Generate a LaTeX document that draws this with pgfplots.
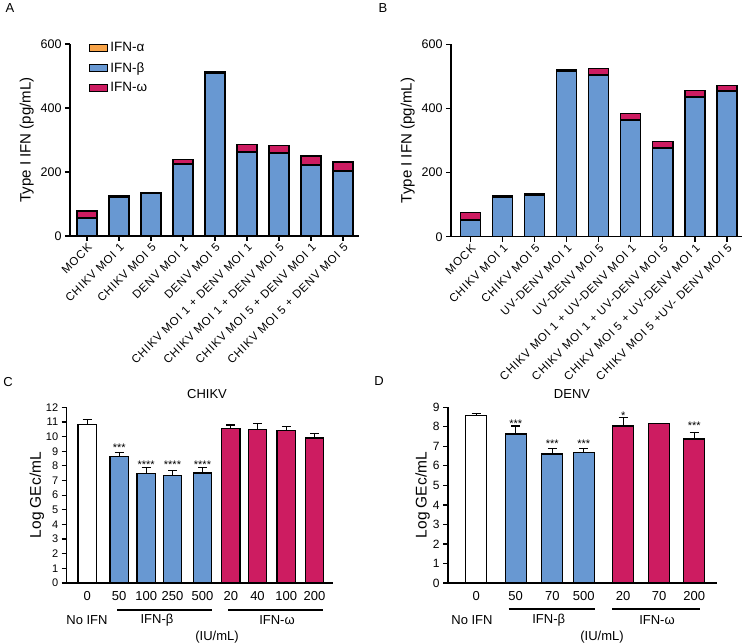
\documentclass[border=0pt]{standalone}
\usepackage{fontspec}
\setmainfont{Liberation Sans}
\newfontfamily\catfont[LetterSpace=8]{Liberation Sans}
\usepackage{pgfplots}
\pgfplotsset{compat=1.18}
\definecolor{ifnb}{RGB}{104,152,210}
\definecolor{ifnw}{RGB}{205,28,97}
\definecolor{ifna}{RGB}{247,163,72}
\newcommand{\fs}[1]{\fontsize{#1}{#1}\selectfont}
\pgfplotsset{
 prism/.style={
  scale only axis,
  axis lines*=left,
  axis line style={line width=1.3pt},
  tick style={line width=1.2pt, black},
  tick align=outside,
  major tick length=5pt,
  /pgf/number format/assume math mode=true,
  clip=false,
 },
 stk/.style={draw=black, line width=1.2pt, fill=#1},
 gbar/.style={draw=black, line width=1.2pt, fill=#1,
  error bars/.cd, y dir=plus, y explicit,
  error bar style={line width=1.2pt, black},
  error mark options={rotate=90, mark size=4.5pt, line width=1.2pt, black}},
}
\begin{document}
\begin{tikzpicture}
\path[use as bounding box] (0pt,0pt) rectangle (745pt,-644pt);
\node[font=\fs{13}] at (10pt,-8pt) {A};
\node[font=\fs{13}] at (383pt,-8pt) {B};
\node[font=\fs{13}] at (8pt,-382pt) {C};
\node[font=\fs{13}] at (379pt,-381pt) {D};
\node[font=\fs{13}] at (207pt,-394pt) {CHIKV};
\node[font=\fs{13}] at (572pt,-394pt) {DENV};

% ---------- Panel A ----------
\begin{axis}[prism, at={(70pt,-236pt)}, anchor=south west, width=289pt, height=192pt,
 xmin=-0.53, xmax=8.5, ymin=0, ymax=600, ytick={0,200,400,600},
 y tick label style={font=\fs{12.5}},
 ybar stacked, bar width=0.625,
 xtick={0,...,8},
 xticklabels={MOCK, CHIKV MOI 1, CHIKV MOI 5, DENV MOI 1, DENV MOI 5, CHIKV MOI 1 + DENV MOI 1, CHIKV MOI 1 + DENV MOI 5, CHIKV MOI 5 + DENV MOI 1, CHIKV MOI 5 + DENV MOI 5},
 xticklabel style={rotate=45, anchor=north east, font=\catfont\fs{11.5}, inner sep=1pt},
 ylabel={Type I IFN (pg/mL)}, ylabel style={font=\fs{15}},
 legend style={draw=none, fill=none, at={(0.055,1.03)}, anchor=north west, font=\fs{13.5}, row sep=5pt, cells={anchor=west}},
 legend image code/.code={\draw[#1, line width=1.4pt] (0pt,-3.5pt) rectangle (18pt,3.5pt);},
]
\addlegendimage{fill=ifna, draw=black}
\addlegendimage{fill=ifnb, draw=black}
\addlegendimage{fill=ifnw, draw=black}
\addplot[stk=ifnb] coordinates {(0,54) (1,120) (2,132) (3,223) (4,509) (5,261) (6,257) (7,221) (8,202)};
\addplot[stk=ifna] coordinates {(0,3) (1,3) (2,3) (3,3) (4,3) (5,3) (6,3) (7,3) (8,3)};
\addplot[stk=ifnw] coordinates {(0,21) (1,2) (2,2) (3,14) (4,2) (5,22) (6,22) (7,26) (8,26)};
\legend{IFN-α, IFN-β, IFN-ω}
\end{axis}

% ---------- Panel B ----------
\begin{axis}[prism, at={(451pt,-236.7pt)}, anchor=south west, width=291pt, height=192.4pt,
 xmin=-0.615, xmax=8.47, ymin=0, ymax=600, ytick={0,200,400,600},
 y tick label style={font=\fs{12.5}},
 ybar stacked, bar width=0.625,
 xtick={0,...,8},
 xticklabels={MOCK, CHIKV MOI 1, CHIKV MOI 5, UV-DENV MOI 1, UV-DENV MOI 5, CHIKV MOI 1 + UV-DENV MOI 1, CHIKV MOI 1 + UV-DENV MOI 5, CHIKV MOI 5 + UV-DENV MOI 1, CHIKV MOI 5 +UV- DENV MOI 5},
 xticklabel style={rotate=45, anchor=north east, font=\catfont\fs{11.5}, inner sep=1pt},
 ylabel={Type I IFN (pg/mL)}, ylabel style={font=\fs{15}},
]
\addplot[stk=ifnb] coordinates {(0,51) (1,122) (2,130) (3,516) (4,502) (5,362) (6,274) (7,433) (8,452)};
\addplot[stk=ifna] coordinates {(0,3) (1,3) (2,3) (3,3) (4,3) (5,3) (6,3) (7,3) (8,3)};
\addplot[stk=ifnw] coordinates {(0,22) (1,2) (2,2) (3,2) (4,19) (5,18) (6,20) (7,19) (8,16)};
\end{axis}

% ---------- Panel C ----------
\begin{axis}[prism, at={(66.7pt,-583pt)}, anchor=south west, width=266.6pt, height=175.7pt,
 xmin=0, xmax=266.6, ymin=0, ymax=12, ytick={0,...,12},
 y tick label style={font=\fs{11}},
 ybar, bar width=18.5, bar shift=0pt,
 xtick={20.5,52.5,79.5,105.8,135.8,164.1,190.8,219.6,247.8},
 xticklabels={0,50,100,250,500,20,40,100,200},
 x tick label style={font=\fs{13}},
 major x tick style={draw=none},
 ylabel={Log GEc/mL}, ylabel style={font=\fs{15.5}}, ylabel shift=-5pt,
]
\addplot[gbar=white] coordinates {(20.5,10.82) +- (0,0.35)};
\addplot[gbar=ifnb] coordinates {(52.5,8.65) +- (0,0.25) (79.5,7.47) +- (0,0.4) (105.8,7.33) +- (0,0.38) (135.8,7.51) +- (0,0.4)};
\addplot[gbar=ifnw] coordinates {(164.1,10.57) +- (0,0.22) (190.8,10.5) +- (0,0.4) (219.6,10.4) +- (0,0.27) (247.8,9.9) +- (0,0.3)};
\node[font=\fs{11}, yshift=-2.6pt] at (axis cs:52.5,9.43) {***};
\node[font=\fs{11}, yshift=-2.6pt] at (axis cs:79.5,8.29) {****};
\node[font=\fs{11}, yshift=-2.6pt] at (axis cs:105.8,8.29) {****};
\node[font=\fs{11}, yshift=-2.6pt] at (axis cs:135.8,8.29) {****};
\draw[line width=1.2pt] ([yshift=-27pt]axis cs:50.3,0) -- ([yshift=-27pt]axis cs:145.3,0);
\draw[line width=1.2pt] ([yshift=-27pt]axis cs:161.3,0) -- ([yshift=-27pt]axis cs:256.3,0);
\node[font=\fs{13}] at ([yshift=-37pt]axis cs:20.3,0) {No IFN};
\node[font=\fs{13}] at ([yshift=-37pt]axis cs:90.3,0) {IFN-β};
\node[font=\fs{13}] at ([yshift=-37pt]axis cs:210.3,0) {IFN-ω};
\node[font=\fs{13}] at ([yshift=-54pt]axis cs:150.3,0) {(IU/mL)};
\end{axis}

% ---------- Panel D ----------
\begin{axis}[prism, at={(448pt,-583pt)}, anchor=south west, width=269pt, height=175.7pt,
 xmin=0, xmax=269, ymin=0, ymax=9, ytick={0,...,9},
 y tick label style={font=\fs{12}},
 ybar, bar width=21, bar shift=0pt,
 xtick={28.2,67.7,104.3,135.8,175.2,211,246.2},
 xticklabels={0,50,70,500,20,70,200},
 x tick label style={font=\fs{13}},
 major x tick style={draw=none},
 ylabel={Log GEc/mL}, ylabel style={font=\fs{15.5}}, ylabel shift=-4pt,
]
\addplot[gbar=white] coordinates {(28.2,8.56) +- (0,0.13)};
\addplot[gbar=ifnb] coordinates {(67.7,7.63) +- (0,0.41) (104.3,6.61) +- (0,0.27) (135.8,6.68) +- (0,0.22)};
\addplot[gbar=ifnw] coordinates {(175.2,8.04) +- (0,0.43) (211,8.15) +- (0,0) (246.2,7.38) +- (0,0.34)};
\node[font=\fs{11}, yshift=-0.3pt] at (axis cs:67.7,8.18) {***};
\node[font=\fs{11}, yshift=-0.8pt] at (axis cs:104.3,7.16) {***};
\node[font=\fs{11}, yshift=-0.8pt] at (axis cs:135.8,7.16) {***};
\node[font=\fs{11}, yshift=-0.3pt] at (axis cs:175.2,8.6) {*};
\node[font=\fs{11}, yshift=-0.8pt] at (axis cs:246.2,8.09) {***};
\draw[line width=1.2pt] ([yshift=-26pt]axis cs:60.7,0) -- ([yshift=-26pt]axis cs:146.7,0);
\draw[line width=1.2pt] ([yshift=-26pt]axis cs:164,0) -- ([yshift=-26pt]axis cs:252,0);
\node[font=\fs{13}] at ([yshift=-37pt]axis cs:24,0) {No IFN};
\node[font=\fs{13}] at ([yshift=-37pt]axis cs:100.7,0) {IFN-β};
\node[font=\fs{13}] at ([yshift=-37pt]axis cs:209,0) {IFN-ω};
\node[font=\fs{13}] at ([yshift=-54pt]axis cs:154,0) {(IU/mL)};
\end{axis}
\end{tikzpicture}
\end{document}
